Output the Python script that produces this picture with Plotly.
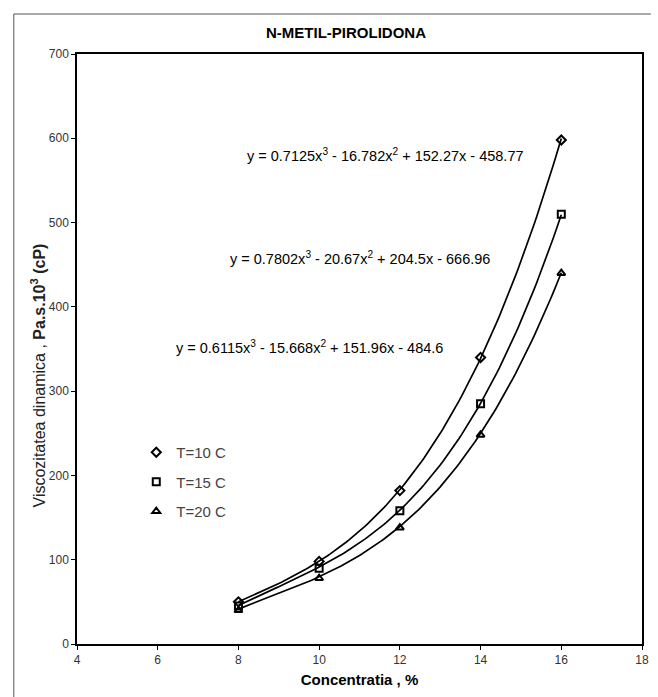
import numpy as np
import plotly.graph_objects as go

# Measured data: concentration (%) vs dynamic viscosity (cP)
concentration = [8, 10, 12, 14, 16]
visc_t10 = [50, 98, 182, 340, 598]
visc_t15 = [45, 90, 158, 285, 510]
visc_t20 = [40, 78, 138, 248, 440]

series_names = ["T=10 C", "T=15 C", "T=20 C"]

# Cubic trendline coefficients (highest power first)
coef_t10 = [0.7125, -16.782, 152.27, -458.77]
coef_t15 = [0.7802, -20.67, 204.5, -666.96]
coef_t20 = [0.6115, -15.668, 151.96, -484.6]

eq_t10 = "y = 0.7125x<sup>3</sup> - 16.782x<sup>2</sup> + 152.27x - 458.77"
eq_t15 = "y = 0.7802x<sup>3</sup> - 20.67x<sup>2</sup> + 204.5x - 666.96"
eq_t20 = "y = 0.6115x<sup>3</sup> - 15.668x<sup>2</sup> + 151.96x - 484.6"

x_ticks = [4, 6, 8, 10, 12, 14, 16, 18]
y_ticks = [0, 100, 200, 300, 400, 500, 600, 700]

FONT = "Liberation Sans, Arial, sans-serif"

fig = go.Figure()

# Trendlines
xs = np.linspace(concentration[0], concentration[-1], 121)
for coef in (coef_t10, coef_t15, coef_t20):
    fig.add_trace(go.Scatter(
        x=xs, y=np.polyval(coef, xs), mode="lines",
        line=dict(color="black", width=1.7), showlegend=False, hoverinfo="skip",
    ))

# Data markers
symbols = ["diamond-open", "square-open", "triangle-up-open"]
for i, (name, vals, sym) in enumerate(zip(series_names, [visc_t10, visc_t15, visc_t20], symbols)):
    fig.add_trace(go.Scatter(
        x=concentration, y=vals, mode="markers", name=name,
        legendgroup=f"g{i}",
        marker=dict(symbol=sym, size=7, color="black", line=dict(color="black", width=2)),
    ))

# Trendline equations
for txt, xp, yp in [(eq_t10, 389, 155), (eq_t15, 363, 258), (eq_t20, 312, 347)]:
    fig.add_annotation(
        x=(xp - 77) / 572, y=(644 - yp) / 590, xref="paper", yref="paper",
        text=txt, showarrow=False, xanchor="center", yanchor="middle",
        font=dict(family=FONT, size=14.5, color="black"),
    )

# Y axis title
fig.add_annotation(
    x=(38 - 77) / 572, y=(644 - 375) / 590, xref="paper", yref="paper",
    text="Viscozitatea dinamica , <b>Pa.s.10<sup>3</sup> (cP)</b>",
    textangle=-90, showarrow=False, xanchor="center", yanchor="middle",
    font=dict(family=FONT, size=16, color="#222"),
)

# Outer chart border (top and left edges)
fig.add_shape(type="line", xref="paper", yref="paper",
              x0=(13 - 77) / 572, x1=(658 - 77) / 572,
              y0=(644 - 14) / 590, y1=(644 - 14) / 590,
              line=dict(color="#555", width=1))
fig.add_shape(type="line", xref="paper", yref="paper",
              x0=(13 - 77) / 572, x1=(13 - 77) / 572,
              y0=(644 - 14) / 590, y1=(644 - 700) / 590,
              line=dict(color="#555", width=1))

fig.update_layout(
    width=658, height=697,
    margin=dict(l=77, r=9, t=54, b=53),
    paper_bgcolor="white", plot_bgcolor="white",
    font=dict(family=FONT, size=12, color="#333"),
    title=dict(text="<b>N-METIL-PIROLIDONA</b>", x=346 / 658, xanchor="center",
               y=1 - 33 / 697, yanchor="middle",
               font=dict(family=FONT, size=15, color="black")),
    showlegend=True,
    legend=dict(x=(137 - 77) / 572, y=(644 - 436) / 590, xanchor="left", yanchor="top",
                bgcolor="rgba(0,0,0,0)", font=dict(family=FONT, size=15, color="#444"),
                traceorder="grouped", tracegroupgap=7),
    xaxis=dict(
        range=[4, 18], tickvals=x_ticks, ticktext=[str(v) for v in x_ticks],
        showgrid=False, zeroline=False, showline=True, mirror=True,
        linecolor="black", linewidth=1.5, ticks="outside", ticklen=4,
        tickcolor="black", tickfont=dict(size=12, color="#333"),
        title=dict(text="<b>Concentratia , %</b>", font=dict(size=15, color="black"), standoff=8),
    ),
    yaxis=dict(
        range=[0, 700], tickvals=y_ticks, ticktext=[str(v) for v in y_ticks],
        showgrid=False, zeroline=False, showline=True, mirror=True,
        linecolor="black", linewidth=1.5, ticks="outside", ticklen=4,
        tickcolor="black", tickfont=dict(size=12, color="#333"),
    ),
)

fig.write_html("out.html")
